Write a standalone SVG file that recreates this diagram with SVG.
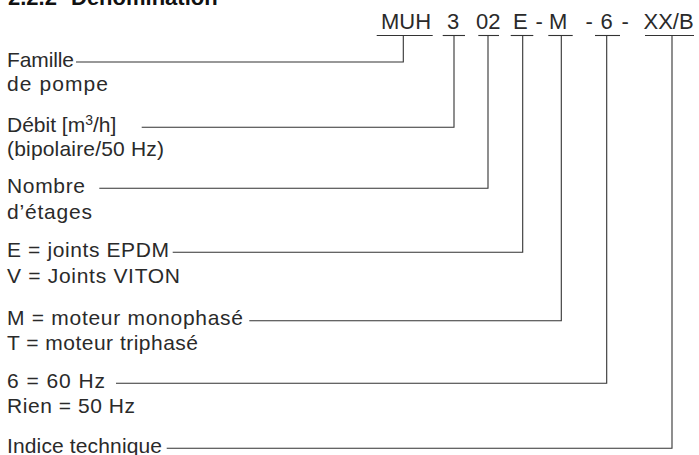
<svg xmlns="http://www.w3.org/2000/svg" width="699" height="455" viewBox="0 0 699 455">
  <style>
    text { font-family: "Liberation Sans", Arial, sans-serif; fill: #2a2a2a; }
    .lbl { font-size: 21px; }
    .code { font-size: 22px; }
    .title { font-size: 22px; font-weight: bold; fill: #111; }
    .ln { fill: none; stroke: #333; stroke-width: 1.1; }
  </style>
  <rect width="699" height="455" fill="#fff"/>
  <g id="title">
    <text class="title" x="8" y="4.5">2.2.2</text>
    <text class="title" x="71" y="4.5">Dénomination</text>
  </g>
  <g id="code">
    <text class="code" x="381" y="28.5">MUH</text>
    <text class="code" x="447" y="28.5">3</text>
    <text class="code" x="476" y="28.5">02</text>
    <text class="code" x="513" y="28.5">E</text>
    <text class="code" x="535.5" y="28.5">-</text>
    <text class="code" x="549" y="28.5">M</text>
    <text class="code" x="585.5" y="28.5">-</text>
    <text class="code" x="600.5" y="28.5">6</text>
    <text class="code" x="621.5" y="28.5">-</text>
    <text class="code" x="643.5" y="28.5">XX/B</text>
  </g>
  <g id="famille">
    <text class="lbl" x="7" y="67" textLength="67" lengthAdjust="spacing">Famille</text>
    <text class="lbl" x="7" y="91" textLength="101" lengthAdjust="spacing">de pompe</text>
  </g>
  <g id="debit">
    <text class="lbl" x="7" y="132">Débit [m<tspan font-size="14" dy="-7">3</tspan><tspan dy="7">/h]</tspan></text>
    <text class="lbl" x="7" y="156" textLength="157" lengthAdjust="spacing">(bipolaire/50 Hz)</text>
  </g>
  <g id="etages">
    <text class="lbl" x="7" y="193" textLength="78" lengthAdjust="spacing">Nombre</text>
    <text class="lbl" x="7" y="219" textLength="85" lengthAdjust="spacing">d’étages</text>
  </g>
  <g id="joints">
    <text class="lbl" x="7" y="257" textLength="162" lengthAdjust="spacing">E = joints EPDM</text>
    <text class="lbl" x="7" y="283" textLength="173" lengthAdjust="spacing">V = Joints VITON</text>
  </g>
  <g id="moteur">
    <text class="lbl" x="7" y="325" textLength="236" lengthAdjust="spacing">M = moteur monophasé</text>
    <text class="lbl" x="7" y="350" textLength="191" lengthAdjust="spacing">T = moteur triphasé</text>
  </g>
  <g id="frequence">
    <text class="lbl" x="7" y="388" textLength="98" lengthAdjust="spacing">6 = 60 Hz</text>
    <text class="lbl" x="7" y="413" textLength="128" lengthAdjust="spacing">Rien = 50 Hz</text>
  </g>
  <g id="indice">
    <text class="lbl" x="7" y="452.5" textLength="155" lengthAdjust="spacing">Indice technique</text>
  </g>
  <g id="connectors" class="ln">
    <line x1="376.7" y1="35.5" x2="432.7" y2="35.5"/>
    <line x1="442.7" y1="35.5" x2="465" y2="35.5"/>
    <line x1="478.3" y1="35.5" x2="499" y2="35.5"/>
    <line x1="510.7" y1="35.5" x2="533.3" y2="35.5"/>
    <line x1="548.3" y1="35.5" x2="572.7" y2="35.5"/>
    <line x1="595" y1="35.5" x2="620" y2="35.5"/>
    <line x1="645" y1="35.5" x2="694" y2="35.5"/>
    <polyline points="403.3,35.5 403.3,62 76,62"/>
    <polyline points="454,35.5 454,127.3 141.7,127.3"/>
    <polyline points="488,35.5 488,188.3 99.3,188.3"/>
    <polyline points="522.7,35.5 522.7,252.3 172.7,252.3"/>
    <polyline points="561.3,35.5 561.3,320.7 249.3,320.7"/>
    <polyline points="606.7,35.5 606.7,383.3 116,383.3"/>
    <polyline points="672,35.5 672,448.3 166.7,448.3"/>
  </g>
</svg>
